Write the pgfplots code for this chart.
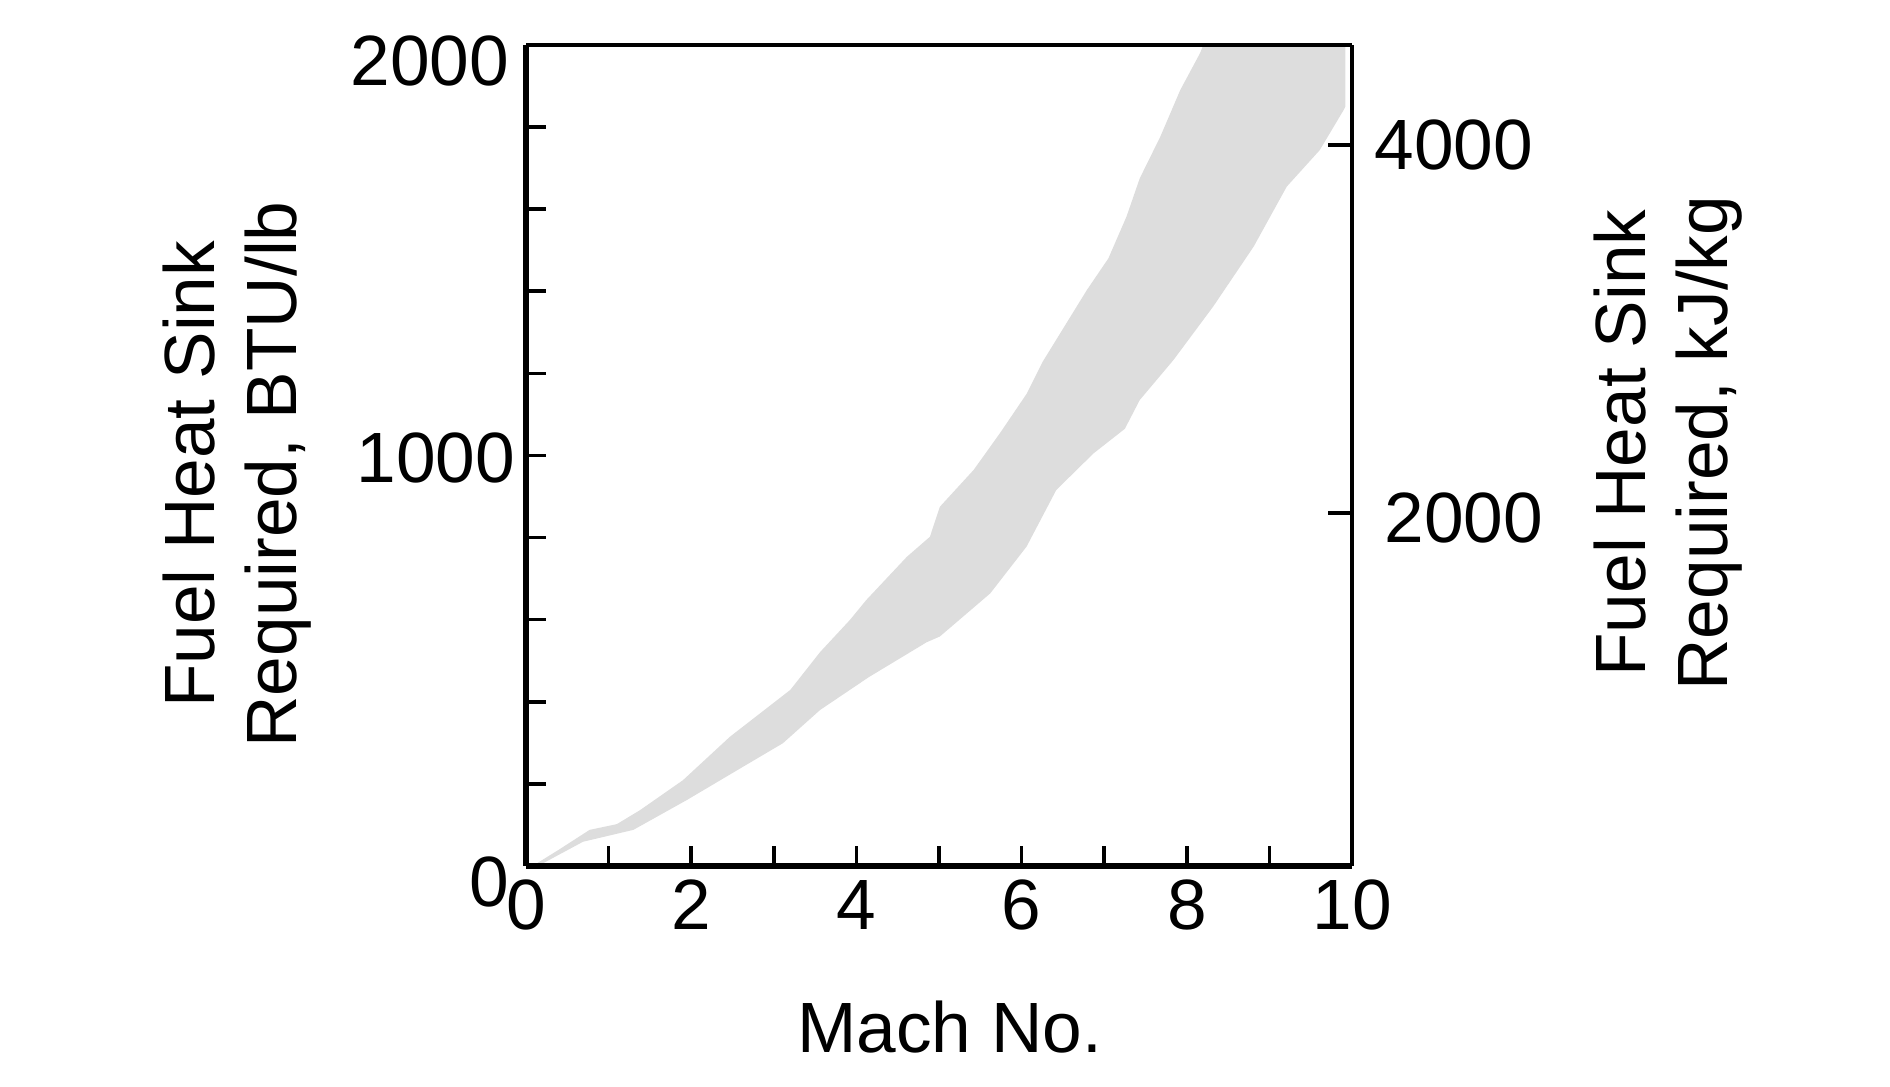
\documentclass[border=0pt]{standalone}
\usepackage{fontspec}
\setmainfont{Liberation Sans}
\usepackage{pgfplots}
\pgfplotsset{compat=1.18}
\definecolor{band}{RGB}{221,221,221}
\newcommand{\lbl}{\fontsize{17.8}{20.5}\selectfont}
\begin{document}
\begin{tikzpicture}
\path[use as bounding box] (-131.5pt,-55.25pt) rectangle (341pt,216.5pt);
\begin{axis}[
  at={(0,0)}, anchor=south west,
  scale only axis, width=206.5pt, height=205.25pt,
  xmin=0, xmax=10, ymin=0, ymax=2000,
  axis x line*=bottom, axis y line*=left,
  x axis line style={line width=1.5pt},
  y axis line style={line width=1.5pt},
  tick align=inside,
  major tick length=5pt, minor tick length=5pt,
  xtick={0,2,4,6,8,10}, xticklabels={0,2,4,6,8,10},
  minor xtick={1,3,5,7,9},
  ytick={1000}, yticklabels={1000},
  minor ytick={200,400,600,800,1200,1400,1600,1800},
  extra y ticks={0,2000}, extra y tick labels={0,2000},
  extra y tick style={every y tick label/.style={inner sep=0pt, anchor=east, xshift=-4pt, yshift=-4pt}},
  tick style={black, line width=0.9pt},
  tick label style={font=\lbl},
  yticklabel style={inner sep=0pt, anchor=east, xshift=-2.5pt, yshift=-0.6pt},
  xlabel={Mach No.},
  xlabel style={font=\lbl, at={(axis description cs:0.513,-0.196)}, anchor=center},
  ylabel={Fuel Heat Sink\\Required, BTU/lb},
  ylabel style={font=\lbl, align=center, at={(axis description cs:-0.35,0.477)}, anchor=center},
  axis on top,
]
\addplot[fill=band, draw=none] coordinates {
(0.08,0) (0.40,40) (0.77,88) (1.10,102) (1.38,136) (1.90,209) (2.47,315)
(3.20,429) (3.56,521) (3.92,599) (4.12,648) (4.61,753) (4.89,802) (5.01,875)
(5.42,965) (5.74,1055) (6.06,1150) (6.26,1230) (6.79,1403) (7.05,1480)
(7.27,1582) (7.43,1675) (7.68,1777) (7.92,1890) (8.16,1980) (8.20,2000)
(9.92,2000) (9.92,1850)
(9.90,1842) (9.61,1744) (9.21,1655) (8.81,1509) (8.32,1363) (7.84,1233)
(7.43,1135) (7.25,1065) (6.87,1005) (6.42,916) (6.06,778) (5.62,664)
(5.01,559) (4.85,545) (4.15,460) (3.56,380) (3.11,299) (2.63,242)
(1.95,161) (1.30,88) (0.69,59) (0.21,7) (0.10,0)
} -- cycle;
\end{axis}
\begin{axis}[
  at={(0,0)}, anchor=south west,
  scale only axis, width=206.5pt, height=205.25pt,
  xmin=0, xmax=10, ymin=81.5, ymax=4543,
  axis x line*=top, axis y line*=right,
  axis line style={line width=1.1pt},
  xtick=\empty,
  tick align=inside, major tick length=6pt,
  ytick={4000}, yticklabels={4000},
  extra y ticks={2000}, extra y tick labels={2000},
  extra y tick style={every y tick label/.style={inner sep=0pt, anchor=west, xshift=8pt, yshift=-1.25pt}},
  tick style={black, line width=0.9pt},
  tick label style={font=\lbl},
  yticklabel style={inner sep=0pt, anchor=west, xshift=5.5pt},
  ylabel={Fuel Heat Sink\\Required, kJ/kg},
  ylabel style={font=\lbl, align=center, at={(axis description cs:1.3826,0.515)}, anchor=center},
]
\addplot[draw=none] coordinates {(5,1000)};
\end{axis}
\end{tikzpicture}
\end{document}
